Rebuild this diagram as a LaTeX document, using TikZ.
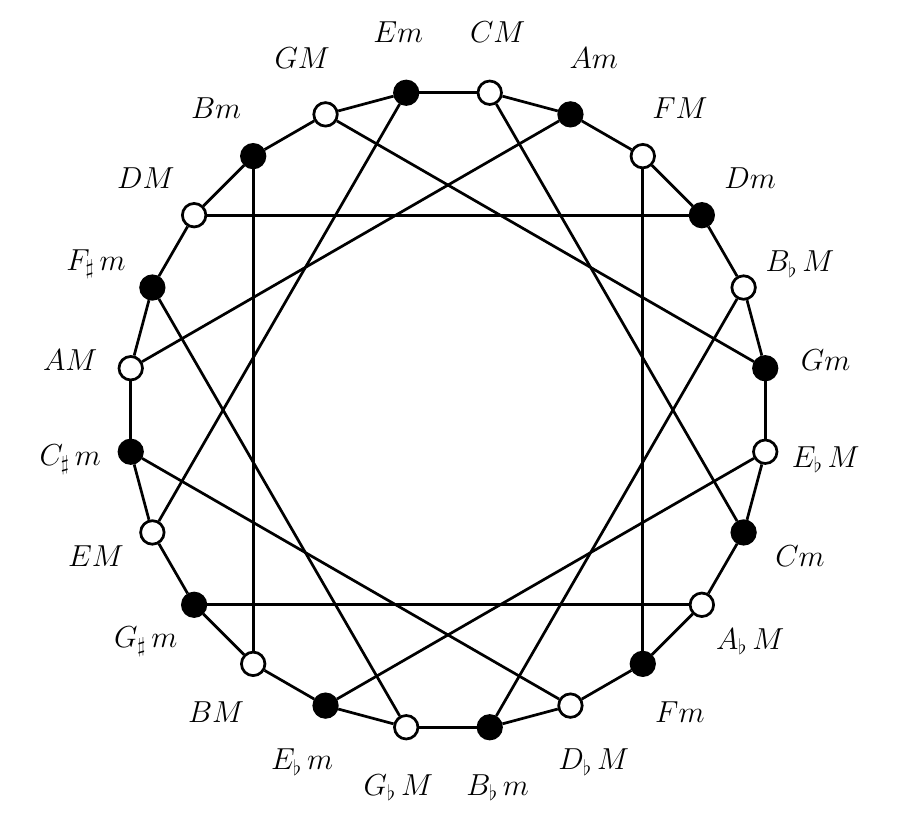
\documentclass[tikz,border=0pt]{standalone}
\begin{document}
\begin{tikzpicture}[
  line width=1.55pt,
  maj/.style={circle,draw,fill=white,inner sep=0pt,minimum size=0.47cm},
  mnr/.style={circle,draw,fill=black,inner sep=0pt,minimum size=0.47cm},
  lab/.style={font=\LARGE,inner sep=0pt}
]
\useasboundingbox (-8.96,-8.2) rectangle (8.98,8.2);
\def\R{6.4}
\def\L{7.62}
\foreach \i/\t/\s in {0/CM/maj,1/Am/mnr,2/FM/maj,3/Dm/mnr,4/B_\flat\,M/maj,5/Gm/mnr,
  6/E_\flat\,M/maj,7/Cm/mnr,8/A_\flat\,M/maj,9/Fm/mnr,10/D_\flat\,M/maj,11/B_\flat\,m/mnr,
  12/G_\flat\,M/maj,13/E_\flat\,m/mnr,14/BM/maj,15/G_\sharp\,m/mnr,16/EM/maj,17/C_\sharp\,m/mnr,
  18/AM/maj,19/F_\sharp\,m/mnr,20/DM/maj,21/Bm/mnr,22/GM/maj,23/Em/mnr}{
  \node[\s] (n\i) at ({82.5-15*\i}:\R) {};
  \node[lab] (l\i) at ({82.5-15*\i}:\L) {$\t$};
}
% cycle
\foreach \i [evaluate=\i as \j using {int(mod(\i+1,24))}] in {0,...,23}{
  \draw (n\i) -- (n\j);
}
% chords
\foreach \a/\b in {0/7,1/18,2/9,3/20,4/11,5/22,6/13,8/15,10/17,12/19,14/21,16/23}{
  \draw (n\a) -- (n\b);
}
\end{tikzpicture}
\end{document}
